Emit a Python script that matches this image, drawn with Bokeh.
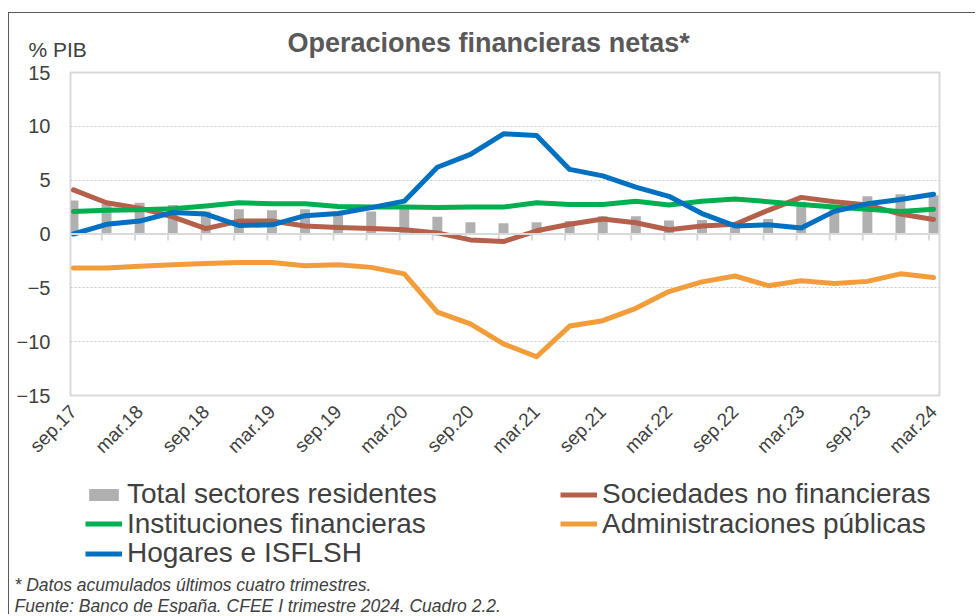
import math
from bokeh.plotting import figure
from bokeh.layouts import column
from bokeh.models import Range1d, FixedTicker, Span, Legend, LegendItem, Label
from bokeh.embed import file_html
from bokeh.resources import INLINE

# ---------------- data (% PIB, acumulado cuatro trimestres) ----------------
quarters = ["sep.17", "dic.17", "mar.18", "jun.18", "sep.18", "dic.18", "mar.19",
            "jun.19", "sep.19", "dic.19", "mar.20", "jun.20", "sep.20", "dic.20",
            "mar.21", "jun.21", "sep.21", "dic.21", "mar.22", "jun.22", "sep.22",
            "dic.22", "mar.23", "jun.23", "sep.23", "dic.23", "mar.24"]
tick_labels = quarters[::2]

total_sectores = [3.1, 2.8, 2.9, 2.7, 2.1, 2.3, 2.2, 2.3, 2.0, 2.1, 2.5, 1.6, 1.1, 1.0,
                  1.1, 1.2, 1.65, 1.65, 1.25, 1.3, 1.1, 1.4, 3.0, 2.7, 3.5, 3.7, 3.6]
sociedades = [4.1, 2.9, 2.4, 1.6, 0.5, 1.2, 1.2, 0.75, 0.6, 0.5, 0.4, 0.1, -0.55, -0.7,
              0.3, 0.9, 1.4, 1.05, 0.4, 0.75, 0.9, 2.2, 3.4, 3.0, 2.7, 1.85, 1.35]
instituciones = [2.1, 2.2, 2.25, 2.35, 2.6, 2.9, 2.8, 2.8, 2.55, 2.5, 2.5, 2.45, 2.5, 2.5,
                 2.9, 2.75, 2.75, 3.05, 2.7, 3.05, 3.25, 3.0, 2.75, 2.5, 2.3, 2.1, 2.3]
administraciones = [-3.15, -3.15, -3.0, -2.85, -2.75, -2.65, -2.65, -2.95, -2.85, -3.1,
                    -3.7, -7.25, -8.35, -10.2, -11.4, -8.55, -8.05, -6.9, -5.35, -4.45,
                    -3.9, -4.8, -4.35, -4.6, -4.4, -3.7, -4.05]
hogares = [0.0, 0.9, 1.2, 2.0, 1.85, 0.8, 0.85, 1.7, 1.9, 2.45, 3.05, 6.2, 7.4, 9.3,
           9.15, 6.0, 5.4, 4.35, 3.5, 1.9, 0.75, 0.85, 0.55, 2.1, 2.8, 3.2, 3.7]

y_ticks = [-15, -10, -5, 0, 5, 10, 15]

series_names = ["Total sectores residentes", "Sociedades no financieras",
                "Instituciones financieras", "Administraciones públicas", "Hogares e ISFLSH"]

# ---------------- styling ----------------
FONT = "Liberation Sans"
TXT = "#404040"
C_TOTAL = "#b0b0b0"
C_SOC = "#b5604b"
C_INST = "#00b050"
C_ADM = "#f39c3a"
C_HOG = "#0070c0"
GRID = "#d9d9d9"
OX, OY = 9, 13          # content origin inside the bordered box (margin + border)
W = 975 - OX
LW = 5

xs = list(range(len(quarters)))


def blank_fig(height):
    f = figure(width=W, height=height, output_backend="svg", toolbar_location=None,
               x_axis_type=None, y_axis_type=None, min_border=0, frame_align=False,
               x_range=Range1d(0, W), y_range=Range1d(0, height))
    f.title.visible = False
    f.outline_line_color = None
    f.xgrid.visible = False
    f.ygrid.visible = False
    f.background_fill_color = "white"
    f.border_fill_color = "white"
    return f

# ---------------- top strip: title and unit ----------------
TH = 60 - OY
p_top = blank_fig(TH)
p_top.add_layout(Label(x=287 - OX, y=18, x_units="screen", y_units="screen",
                       text="Operaciones financieras netas*", text_font=FONT,
                       text_font_size="27px", text_font_style="bold", text_color="#595959",
                       text_baseline="alphabetic"))
p_top.add_layout(Label(x=28 - OX, y=11, x_units="screen", y_units="screen",
                       text="% PIB", text_font=FONT, text_font_size="21px", text_color=TXT,
                       text_baseline="alphabetic"))

# ---------------- main chart ----------------
p = figure(width=W, height=410, output_backend="svg", toolbar_location=None,
           x_range=Range1d(-0.09, len(quarters) - 1 + 0.18), y_range=Range1d(-15, 15),
           min_border_left=70 - OX, min_border_right=W - (939 - OX), min_border_top=12,
           min_border_bottom=75, frame_align=False)
p.title.visible = False
p.background_fill_color = "white"
p.border_fill_color = "white"
p.outline_line_color = GRID
p.outline_line_width = 2

p.yaxis.ticker = FixedTicker(ticks=y_ticks)
p.yaxis.axis_line_color = None
p.yaxis.major_tick_line_color = None
p.yaxis.minor_tick_line_color = None
p.yaxis.major_tick_out = 0
p.yaxis.major_label_standoff = 20
p.yaxis.major_label_text_font = FONT
p.yaxis.major_label_text_font_size = "20px"
p.yaxis.major_label_text_color = TXT

p.xaxis.ticker = FixedTicker(ticks=xs[::2])
p.xaxis.major_label_overrides = {i: lab for i, lab in zip(xs[::2], tick_labels)}
p.xaxis.major_label_orientation = math.pi / 4
p.xaxis.axis_line_color = None
p.xaxis.major_tick_line_color = None
p.xaxis.minor_tick_line_color = None
p.xaxis.major_tick_out = 0
p.xaxis.major_label_standoff = 13
p.xaxis.major_label_text_font = FONT
p.xaxis.major_label_text_font_size = "19px"
p.xaxis.major_label_text_color = TXT

p.xgrid.visible = False
p.ygrid.ticker = FixedTicker(ticks=[-10, -5, 5, 10])
p.ygrid.grid_line_color = "#c8c8c8"
p.ygrid.grid_line_dash = "2 2"
p.ygrid.grid_line_width = 1

p.add_layout(Span(location=0, dimension="width", line_color=GRID, line_width=2))
tick_x = [i + 0.86 for i in xs[:-1]]
p.segment(x0=tick_x, y0=[0] * len(tick_x), x1=tick_x, y1=[-0.6] * len(tick_x),
          line_color=GRID, line_width=2)

p.vbar(x=xs, top=total_sectores, width=0.3, fill_color=C_TOTAL, line_color=None)
p.line(xs, sociedades, line_color=C_SOC, line_width=LW, line_join="round", line_cap="round")
p.line(xs, instituciones, line_color=C_INST, line_width=LW, line_join="round", line_cap="round")
p.line(xs, administraciones, line_color=C_ADM, line_width=LW, line_join="round", line_cap="round")
p.line(xs, hogares, line_color=C_HOG, line_width=LW, line_join="round", line_cap="round")

# ---------------- bottom strip: legend and notes ----------------
BH = 144
p_bot = blank_fig(BH)
nan = float("nan")
# legend keys (styles of the series above; nothing is drawn in the strip itself)
k_total = p_bot.vbar(x=[nan], top=[nan], width=1, fill_color=C_TOTAL, line_color=None)
k_soc = p_bot.line(x=[nan], y=[nan], line_color=C_SOC, line_width=LW)
k_inst = p_bot.line(x=[nan], y=[nan], line_color=C_INST, line_width=LW)
k_adm = p_bot.line(x=[nan], y=[nan], line_color=C_ADM, line_width=LW)
k_hog = p_bot.line(x=[nan], y=[nan], line_color=C_HOG, line_width=LW)

# (name, key renderer, left x, row-centre y measured from the strip top)
entries = [(series_names[0], k_total, 85, 24), (series_names[1], k_soc, 560, 24),
           (series_names[2], k_inst, 85, 53.5), (series_names[3], k_adm, 560, 53.5),
           (series_names[4], k_hog, 85, 83)]
ITEM_H = 40
for name, rend, lx, cy in entries:
    lg = Legend(items=[LegendItem(label=name, renderers=[rend])],
                location=(lx - OX, BH - cy - ITEM_H / 2), orientation="vertical",
                glyph_width=37, glyph_height=15, label_standoff=5, label_height=ITEM_H,
                spacing=0, padding=0, margin=0, border_line_color=None,
                background_fill_alpha=0, label_text_font=FONT,
                label_text_font_size="28px", label_text_color=TXT)
    p_bot.add_layout(lg)

p_bot.add_layout(Label(x=14 - OX, y=30, x_units="screen", y_units="screen",
                       text="* Datos acumulados últimos cuatro trimestres.", text_font=FONT,
                       text_font_size="17.5px", text_font_style="italic", text_color=TXT,
                       text_baseline="alphabetic"))
p_bot.add_layout(Label(x=14 - OX, y=9, x_units="screen", y_units="screen",
                       text="Fuente: Banco de España. CFEE I trimestre 2024. Cuadro 2.2.",
                       text_font=FONT, text_font_size="17.5px", text_font_style="italic",
                       text_color=TXT, text_baseline="alphabetic"))

layout = column(p_top, p, p_bot, spacing=0,
                styles={"margin-left": "8px", "margin-top": "12px",
                        "border-left": "1px solid #595959",
                        "border-top": "1px solid #595959"})
open("out.html", "w").write(file_html(layout, INLINE))
